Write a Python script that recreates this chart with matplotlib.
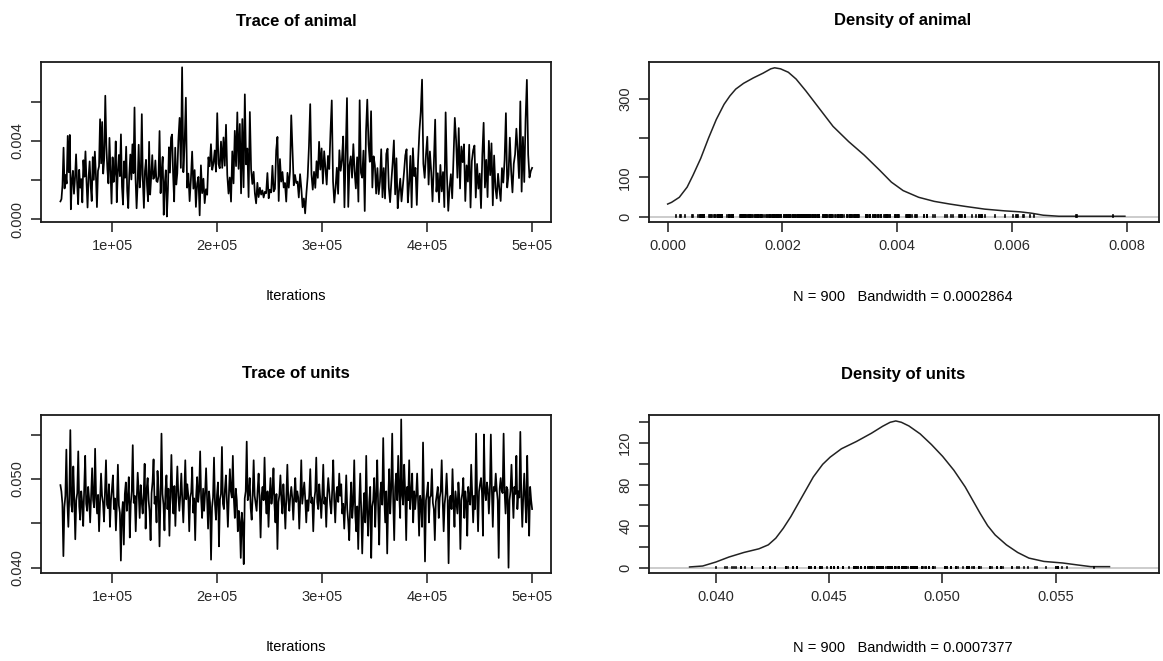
import numpy as np
import matplotlib
matplotlib.use("Agg")
import matplotlib.pyplot as plt

# MCMC output for two variance components in 1e-3 units.
# Each trace is split into four stretches of iterations (bounds below).
seg_bounds = [50500, 162875, 275250, 387625, 500000]

animal_trace = [
    [0.92, 1.04, 1.76, 3.66, 1.58, 2.27, 1.83, 4.26, 2.41, 4.31, 0.52, 1.97, 2.48, 1.31, 2.12,
     3.32, 1.87, 0.78, 2.53, 1.62, 2.06, 0.87, 3.02, 2.18, 3.47, 1.93, 0.61, 2.14, 2.96, 1.73,
     0.94, 3.18, 2.02, 3.46, 2.27, 0.63, 2.48, 2.71, 5.11, 2.86, 4.97, 2.34, 3.12, 6.31, 3.78,
     2.56, 1.84, 4.16, 2.42, 0.81, 3.17, 1.91, 2.37, 3.98, 0.88, 2.43, 3.29, 2.21, 4.34, 1.68,
     0.76, 2.96, 2.13, 3.71, 1.46, 0.58, 2.28, 3.31, 2.04, 3.83, 2.36, 5.71, 2.09, 0.57, 1.86,
     3.81, 1.63, 2.29, 5.37, 1.97, 0.59, 2.47, 3.04, 1.72, 0.93, 3.96, 1.27, 2.18, 3.28, 2.07,
     2.14, 3.01, 1.96, 1.91, 2.21, 4.51, 1.34, 2.46, 3.19, 0.24, 1.83, 2.51, 0.15, 1.47, 3.68,
     2.39, 4.17, 4.33, 2.26, 0.92, 3.66, 1.78, 2.35, 4.02],
    [5.18, 2.63, 7.76, 2.41, 3.87, 6.21, 1.62, 2.34, 0.93, 2.03, 3.46, 1.57, 2.52, 0.64, 1.83,
     2.17, 0.21, 2.76, 1.34, 2.08, 0.83, 1.54, 1.26, 3.17, 2.71, 3.84, 2.53, 2.86, 3.52, 2.44,
     5.42, 2.83, 2.61, 3.97, 2.63, 4.18, 2.74, 4.83, 2.28, 1.32, 2.14, 0.91, 3.47, 1.84, 4.52,
     2.72, 5.46, 2.58, 4.87, 1.33, 5.12, 1.64, 6.38, 2.81, 3.62, 1.14, 5.48, 2.57, 1.81, 2.43,
     1.33, 0.82, 1.87, 1.14, 1.62, 1.27, 1.48, 1.12, 1.41, 1.34, 2.37, 1.08, 1.52, 1.38, 2.74,
     1.43, 1.56, 3.53, 4.21, 0.94, 3.08, 1.93, 2.42, 1.63, 1.86, 0.91, 2.38, 1.62, 2.44, 5.31,
     3.47, 1.74, 2.27, 1.86],
    [1.93, 1.12, 2.31, 1.58, 0.62, 1.07, 0.31, 1.34, 2.18, 3.72, 5.88, 2.31, 1.52, 2.43, 1.61,
     2.97, 2.12, 3.96, 2.54, 3.62, 1.83, 3.48, 2.63, 1.78, 3.24, 2.57, 4.47, 6.07, 1.94, 0.86,
     1.63, 2.64, 1.31, 3.53, 2.48, 3.02, 4.23, 0.62, 3.46, 6.19, 0.64, 2.77, 3.22, 2.13, 3.84,
     2.46, 1.58, 3.17, 0.91, 6.08, 2.38, 2.13, 3.51, 0.43, 4.47, 6.11, 3.83, 2.94, 5.52, 1.63,
     3.22, 2.76, 1.32, 2.62, 1.29, 1.92, 3.58, 1.13, 2.62, 1.07, 3.34, 3.61, 1.62, 0.88, 1.94,
     2.88, 4.03, 1.28, 3.12, 0.57, 1.43, 2.08, 0.92, 1.64, 2.41, 3.27, 3.58, 0.87, 1.82, 3.24,
     0.62, 3.63, 2.21],
    [2.63, 0.74, 3.02, 4.52, 5.47, 7.13, 2.84, 2.12, 3.31, 4.22, 1.78, 3.47, 2.41, 0.92, 2.83,
     5.09, 1.42, 2.36, 0.88, 2.78, 1.43, 2.42, 0.63, 5.46, 2.27, 0.44, 1.62, 2.31, 1.08, 3.14,
     5.18, 4.02, 2.13, 4.66, 1.58, 3.72, 2.92, 3.83, 0.94, 2.76, 1.93, 3.81, 0.61, 2.98, 3.53,
     3.77, 1.12, 2.83, 1.57, 2.34, 0.58, 3.28, 4.93, 1.63, 3.04, 1.14, 4.01, 2.26, 3.88, 0.72,
     3.26, 1.61, 1.07, 2.33, 1.56, 0.94, 2.62, 1.88, 3.03, 5.42, 1.63, 2.28, 4.17, 2.47, 1.38,
     2.84, 3.32, 4.63, 3.48, 2.11, 6.02, 1.42, 4.21, 1.91, 5.08, 7.12, 3.31, 2.14, 2.47, 2.63],
]

units_trace = [
    [49.3, 48.6, 47.2, 41.3, 46.8, 48.1, 53.3, 47.4, 44.6, 48.2, 55.5, 47.1, 46.3, 51.4, 47.8,
     43.2, 47.6, 48.4, 53.1, 46.9, 45.4, 48.6, 47.3, 44.7, 48.9, 52.6, 47.2, 46.4, 49.1, 47.7,
     45.1, 48.3, 51.2, 47.6, 46.8, 53.4, 47.9, 46.1, 48.2, 44.1, 47.4, 50.6, 48.1, 47.3, 45.2,
     48.7, 52.1, 47.1, 46.7, 49.4, 44.6, 47.6, 48.9, 50.4, 46.6, 47.8, 44.2, 47.2, 51.6, 47.0,
     46.2, 40.8, 45.9, 47.4, 42.6, 48.3, 49.6, 46.4, 47.9, 50.2, 43.4, 47.2, 48.6, 53.8, 47.3,
     48.1, 44.1, 47.7, 50.7, 48.4, 45.6, 49.3, 47.5, 46.1, 48.2, 51.7, 44.4, 48.8, 50.1, 47.6,
     46.3, 43.1, 48.4, 49.7, 52.2, 47.2, 48.0, 45.1, 50.9, 48.6, 42.4, 47.8, 55.1, 48.3, 47.1,
     44.2, 48.7, 50.4, 46.6, 48.9, 43.6, 48.3, 52.7, 47.9, 46.1, 49.2, 44.7, 48.4, 51.4, 48.1],
    [46.4, 48.2, 50.6, 47.6, 45.1, 48.3, 52.1, 47.7, 49.4, 48.2, 44.1, 47.9, 48.5, 51.3, 46.2,
     47.8, 43.1, 48.1, 50.2, 47.4, 48.6, 53.1, 47.8, 45.6, 48.9, 46.4, 48.4, 51.2, 47.9, 44.4,
     48.6, 47.3, 40.9, 46.8, 47.9, 52.4, 47.1, 45.4, 48.2, 49.6, 42.4, 47.7, 48.3, 53.6, 47.2,
     46.6, 48.8, 50.4, 47.4, 44.6, 48.1, 51.1, 48.6, 47.9, 52.6, 47.8, 45.6, 48.9, 47.6, 44.1,
     46.4, 45.2, 41.1, 46.2, 44.9, 40.4, 47.8, 48.6, 54.2, 47.6, 48.3, 50.1, 46.7, 45.4, 48.2,
     52.1, 48.1, 47.2, 46.4, 48.7, 50.6, 47.7, 43.4, 48.1, 49.1, 47.6, 52.4, 47.9, 46.1, 48.6,
     44.6, 47.9, 50.1, 47.2, 48.4, 51.2, 47.1, 45.1, 48.3, 42.1, 47.4, 48.2, 50.4, 47.7, 46.1,
     49.4, 47.2, 44.4, 48.1, 51.6, 47.6, 46.4, 48.1, 49.1, 47.8, 45.4, 48.2, 50.1, 47.4],
    [48.6, 47.9, 44.4, 47.8, 52.1, 47.2, 48.4, 49.6, 47.7, 45.1, 47.6, 46.4, 48.2, 51.1, 47.3,
     47.9, 44.1, 47.6, 48.6, 52.4, 47.4, 46.6, 49.4, 47.8, 45.6, 48.1, 51.6, 47.2, 47.9, 44.6,
     48.2, 50.1, 48.6, 47.1, 46.1, 48.8, 52.1, 47.6, 45.1, 48.3, 49.1, 47.4, 50.6, 48.1, 49.4,
     46.1, 47.2, 44.4, 47.1, 50.4, 46.6, 45.2, 43.1, 47.1, 49.6, 45.6, 47.3, 52.1, 46.1, 44.1,
     46.9, 42.1, 47.2, 50.6, 46.4, 41.6, 46.1, 48.4, 45.1, 52.6, 46.2, 43.6, 47.4, 49.1, 41.1,
     46.9, 47.6, 50.1, 44.6, 48.1, 52.1, 46.6, 42.6, 48.3, 49.6, 47.1, 54.6, 48.1, 45.1, 48.6,
     41.6, 47.6, 51.1, 46.1, 48.9, 55.1, 47.6, 43.1, 49.1, 50.6, 47.6, 52.6, 48.3, 45.6, 56.7,
     48.1, 47.1, 51.6, 48.4, 43.1, 49.1, 47.6, 52.1, 46.6, 48.4, 50.6, 45.1, 48.6],
    [46.6, 48.1, 50.6, 47.4, 43.6, 48.1, 47.3, 44.6, 54.1, 47.2, 40.7, 47.6, 48.4, 49.6, 45.1,
     47.9, 48.1, 51.1, 47.3, 46.6, 43.1, 47.4, 48.2, 49.1, 45.6, 47.9, 48.6, 52.1, 47.6, 44.1,
     47.2, 48.3, 50.6, 47.8, 40.5, 47.6, 48.1, 46.6, 51.1, 47.4, 44.6, 48.6, 47.4, 46.1, 49.6,
     47.8, 42.1, 47.6, 48.4, 50.1, 45.6, 48.6, 47.4, 43.6, 49.1, 47.8, 47.1, 51.6, 48.4, 45.1,
     48.1, 46.6, 55.1, 48.3, 44.1, 48.6, 49.4, 50.1, 48.4, 43.6, 55.0, 48.6, 47.6, 49.6, 48.8,
     46.1, 48.6, 55.0, 48.9, 44.6, 49.1, 48.6, 50.6, 48.8, 47.6, 41.1, 48.9, 50.1, 48.7, 48.4,
     55.1, 48.6, 46.1, 49.1, 48.8, 40.0, 47.6, 48.6, 51.6, 48.4, 45.6, 49.1, 48.3, 52.6, 46.6,
     48.6, 47.9, 55.3, 48.1, 44.6, 48.1, 50.6, 47.6, 45.1, 52.6, 47.1, 43.6, 49.1, 47.6, 46.6],
]

# density estimates as drawn (x, y)
animal_dens_x = [0.0, 0.000068, 0.000203, 0.000339, 0.000441, 0.000576, 0.000712, 0.000847,
                 0.000983, 0.001085, 0.001186, 0.001322, 0.001492, 0.001661, 0.001797,
                 0.001864, 0.001966, 0.002102, 0.002237, 0.002407, 0.00261, 0.002881,
                 0.003153, 0.003424, 0.003695, 0.003898, 0.004102, 0.004373, 0.004644,
                 0.004915, 0.005186, 0.005525, 0.005864, 0.006136, 0.006339, 0.006542,
                 0.006814, 0.007966]
animal_dens_y = [32.6, 36.9, 49.7, 75.4, 105.4, 148.3, 199.7, 246.8, 285.4, 306.8, 323.9,
                 338.5, 352.2, 364.2, 375.3, 377.9, 375.3, 366.6, 349.5, 319.5, 280.9, 229.5,
                 190.9, 156.6, 118.1, 88.1, 66.7, 49.7, 39.4, 32.6, 26.6, 19.7, 15.4, 12.9,
                 9.4, 4.3, 1.7, 1.7]

units_dens_x = [0.038841, 0.039421, 0.040000, 0.040579, 0.041242, 0.041904, 0.042318,
                0.042649, 0.042980, 0.043311, 0.043642, 0.043974, 0.044305, 0.044719,
                0.045050, 0.045546, 0.046209, 0.046871, 0.047367, 0.047698, 0.047947,
                0.048195, 0.048526, 0.049023, 0.049520, 0.050017, 0.050513, 0.051010,
                0.051341, 0.051672, 0.052003, 0.052334, 0.052831, 0.053328, 0.053824,
                0.054487, 0.055315, 0.055977, 0.056556, 0.057384]
units_dens_y = [1.0, 1.9, 5.7, 10.5, 14.9, 18.4, 22.2, 28.6, 38.1, 49.2, 61.9, 74.6, 87.3,
                99.4, 106.3, 114.3, 121.3, 129.2, 135.9, 139.7, 141.0, 139.7, 136.2, 128.6,
                118.4, 107.0, 93.7, 77.8, 65.1, 52.4, 40.6, 31.7, 22.2, 14.9, 9.5, 6.3, 4.8,
                2.9, 1.3, 1.3]

names = ["animal", "units"]
bandwidths = ["0.0002864", "0.0007377"]
n_samples = 900

plt.rcParams["font.family"] = ["Liberation Sans", "DejaVu Sans"]

W, H = 1163, 661
fig = plt.figure(figsize=(W / 100, H / 100), dpi=100)


def box(l, t, r, b):
    return [l / W, 1 - b / H, (r - l) / W, (b - t) / H]


def style(ax):
    for s in ax.spines.values():
        s.set_linewidth(1.3)
        s.set_color("#1a1a1a")
    ax.tick_params(direction="out", length=7, width=1.1, color="#1a1a1a",
                   labelsize=10.5, labelcolor="#2a2a2a", pad=5)
    ax.tick_params(axis="y", labelrotation=90)
    for lab in ax.get_yticklabels():
        lab.set_va("center")


def trace_xy(segments):
    xs, ys = [], []
    for k, seg in enumerate(segments):
        end = seg_bounds[k + 1]
        start = seg_bounds[k] if k == 0 else seg_bounds[k] + (end - seg_bounds[k]) / len(seg)
        xs.append(np.linspace(start, end, len(seg)))
        ys.append(np.array(seg) * 1e-3)
    return np.concatenate(xs), np.concatenate(ys)


rows = [(62, 222), (415, 573)]
traces = [animal_trace, units_trace]
dens = [(animal_dens_x, animal_dens_y), (units_dens_x, units_dens_y)]
trace_ylim = [(-0.00013, 0.00803), (0.0394, 0.0572)]
trace_yticks = [([0, 0.002, 0.004, 0.006], ["0.000", "", "0.004", ""]),
                ([0.040, 0.045, 0.050, 0.055], ["0.040", "", "0.050", ""])]
dens_xlim = [(-0.000325, 0.00856), (0.03705, 0.05957)]
dens_ylim = [(-12.9, 392.6), (-4.8, 146.7)]
dens_xticks = [([0, 0.002, 0.004, 0.006, 0.008], ["0.000", "0.002", "0.004", "0.006", "0.008"]),
               ([0.040, 0.045, 0.050, 0.055], ["0.040", "0.045", "0.050", "0.055"])]
dens_yticks = [([0, 100, 200, 300], ["0", "100", "", "300"]),
               ([0, 20, 40, 60, 80, 100, 120, 140], ["0", "", "40", "", "80", "", "120", ""])]

for i, (top, bot) in enumerate(rows):
    iters, vals = trace_xy(traces[i])

    ax = fig.add_axes(box(41, top, 551, bot))
    ax.plot(iters, vals, color="black", lw=1.25)
    ax.set_xlim(32000, 518000)
    ax.set_ylim(*trace_ylim[i])
    ax.set_xticks([1e5, 2e5, 3e5, 4e5, 5e5])
    ax.set_xticklabels(["1e+05", "2e+05", "3e+05", "4e+05", "5e+05"])
    ax.set_yticks(trace_yticks[i][0])
    ax.set_yticklabels(trace_yticks[i][1])
    style(ax)
    fig.text(296 / W, 1 - (top - 41) / H, "Trace of " + names[i], ha="center", va="center",
             fontsize=12, fontweight="bold")
    fig.text(296 / W, 1 - (bot + 74) / H, "Iterations", ha="center", va="center", fontsize=10.5)

    ax = fig.add_axes(box(649, top, 1159, bot))
    ax.axhline(0, color="#c8c8c8", lw=1.3)
    ax.plot(dens[i][0], dens[i][1], color="#222222", lw=1.1)
    ax.vlines(vals, 0, max(dens[i][1]) / 100, color="black", lw=1.2, capstyle="projecting")
    ax.set_xlim(*dens_xlim[i])
    ax.set_ylim(*dens_ylim[i])
    ax.set_xticks(dens_xticks[i][0])
    ax.set_xticklabels(dens_xticks[i][1])
    ax.set_yticks(dens_yticks[i][0])
    ax.set_yticklabels(dens_yticks[i][1])
    style(ax)
    fig.text(903 / W, 1 - (top - 41) / H, "Density of " + names[i], ha="center", va="center",
             fontsize=12, fontweight="bold")
    fig.text(903 / W, 1 - (bot + 75) / H,
             "N = %d   Bandwidth = %s" % (n_samples, bandwidths[i]),
             ha="center", va="center", fontsize=10.5)

fig.savefig("out.png", dpi=100)
